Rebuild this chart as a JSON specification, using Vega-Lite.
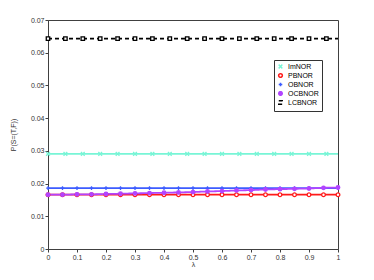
{
  "$schema": "https://vega.github.io/schema/vega-lite/v6.json",
  "autosize": {"type": "none"},
  "padding": {"left": 48, "top": 20, "right": 36, "bottom": 31},
  "width": 290,
  "height": 229,
  "config": {
    "font": "Liberation Sans",
    "view": {"stroke": "#404040", "strokeWidth": 1},
    "axis": {"grid": false, "domainColor": "#404040", "tickColor": "#404040", "labelColor": "#333333", "labelFontSize": 7, "titleFontSize": 7, "titleFontWeight": "normal", "titleColor": "#333333", "labelFont": "Liberation Sans", "titleFont": "Liberation Sans", "labelOverlap": false, "labelFlush": false}
  },
  "data": {"values": [
    {"s":"ImNOR","x":0,"y":0.0291},{"s":"ImNOR","x":0.06,"y":0.0291},{"s":"ImNOR","x":0.12,"y":0.0291},{"s":"ImNOR","x":0.18,"y":0.0291},{"s":"ImNOR","x":0.24,"y":0.0291},{"s":"ImNOR","x":0.3,"y":0.0291},{"s":"ImNOR","x":0.36,"y":0.0291},{"s":"ImNOR","x":0.42,"y":0.0291},{"s":"ImNOR","x":0.48,"y":0.0291},{"s":"ImNOR","x":0.54,"y":0.0291},{"s":"ImNOR","x":0.6,"y":0.0291},{"s":"ImNOR","x":0.66,"y":0.0291},{"s":"ImNOR","x":0.72,"y":0.0291},{"s":"ImNOR","x":0.78,"y":0.0291},{"s":"ImNOR","x":0.84,"y":0.0291},{"s":"ImNOR","x":0.9,"y":0.0291},{"s":"ImNOR","x":0.96,"y":0.0291},{"s":"ImNOR","x":1,"y":0.0291},
    {"s":"LCBNOR","x":0,"y":0.0643},{"s":"LCBNOR","x":0.06,"y":0.0643},{"s":"LCBNOR","x":0.12,"y":0.0643},{"s":"LCBNOR","x":0.18,"y":0.0643},{"s":"LCBNOR","x":0.24,"y":0.0643},{"s":"LCBNOR","x":0.3,"y":0.0643},{"s":"LCBNOR","x":0.36,"y":0.0643},{"s":"LCBNOR","x":0.42,"y":0.0643},{"s":"LCBNOR","x":0.48,"y":0.0643},{"s":"LCBNOR","x":0.54,"y":0.0643},{"s":"LCBNOR","x":0.6,"y":0.0643},{"s":"LCBNOR","x":0.66,"y":0.0643},{"s":"LCBNOR","x":0.72,"y":0.0643},{"s":"LCBNOR","x":0.78,"y":0.0643},{"s":"LCBNOR","x":0.84,"y":0.0643},{"s":"LCBNOR","x":0.9,"y":0.0643},{"s":"LCBNOR","x":0.96,"y":0.0643},{"s":"LCBNOR","x":1,"y":0.0643},
    {"s":"PBNOR","x":0,"y":0.0166},{"s":"PBNOR","x":0.05,"y":0.0166},{"s":"PBNOR","x":0.1,"y":0.0166},{"s":"PBNOR","x":0.15,"y":0.0166},{"s":"PBNOR","x":0.2,"y":0.0166},{"s":"PBNOR","x":0.25,"y":0.0166},{"s":"PBNOR","x":0.3,"y":0.0166},{"s":"PBNOR","x":0.35,"y":0.0166},{"s":"PBNOR","x":0.4,"y":0.0166},{"s":"PBNOR","x":0.45,"y":0.0166},{"s":"PBNOR","x":0.5,"y":0.0166},{"s":"PBNOR","x":0.55,"y":0.0166},{"s":"PBNOR","x":0.6,"y":0.0166},{"s":"PBNOR","x":0.65,"y":0.0166},{"s":"PBNOR","x":0.7,"y":0.0166},{"s":"PBNOR","x":0.75,"y":0.0166},{"s":"PBNOR","x":0.8,"y":0.0166},{"s":"PBNOR","x":0.85,"y":0.0166},{"s":"PBNOR","x":0.9,"y":0.0166},{"s":"PBNOR","x":0.95,"y":0.0166},{"s":"PBNOR","x":1,"y":0.0166},
    {"s":"OBNOR","x":0,"y":0.0186},{"s":"OBNOR","x":0.05,"y":0.0186},{"s":"OBNOR","x":0.1,"y":0.0186},{"s":"OBNOR","x":0.15,"y":0.0186},{"s":"OBNOR","x":0.2,"y":0.0186},{"s":"OBNOR","x":0.25,"y":0.0186},{"s":"OBNOR","x":0.3,"y":0.0186},{"s":"OBNOR","x":0.35,"y":0.0186},{"s":"OBNOR","x":0.4,"y":0.0186},{"s":"OBNOR","x":0.45,"y":0.0186},{"s":"OBNOR","x":0.5,"y":0.0186},{"s":"OBNOR","x":0.55,"y":0.0186},{"s":"OBNOR","x":0.6,"y":0.0186},{"s":"OBNOR","x":0.65,"y":0.0186},{"s":"OBNOR","x":0.7,"y":0.0186},{"s":"OBNOR","x":0.75,"y":0.0186},{"s":"OBNOR","x":0.8,"y":0.0186},{"s":"OBNOR","x":0.85,"y":0.0186},{"s":"OBNOR","x":0.9,"y":0.0186},{"s":"OBNOR","x":0.95,"y":0.0186},{"s":"OBNOR","x":1,"y":0.0186},
    {"s":"OCBNOR","x":0,"y":0.0166},{"s":"OCBNOR","x":0.05,"y":0.0166},{"s":"OCBNOR","x":0.1,"y":0.0167},{"s":"OCBNOR","x":0.15,"y":0.0167},{"s":"OCBNOR","x":0.2,"y":0.0168},{"s":"OCBNOR","x":0.25,"y":0.0169},{"s":"OCBNOR","x":0.3,"y":0.017},{"s":"OCBNOR","x":0.35,"y":0.0171},{"s":"OCBNOR","x":0.4,"y":0.0172},{"s":"OCBNOR","x":0.45,"y":0.0173},{"s":"OCBNOR","x":0.5,"y":0.0174},{"s":"OCBNOR","x":0.55,"y":0.0176},{"s":"OCBNOR","x":0.6,"y":0.0177},{"s":"OCBNOR","x":0.65,"y":0.0179},{"s":"OCBNOR","x":0.7,"y":0.018},{"s":"OCBNOR","x":0.75,"y":0.0182},{"s":"OCBNOR","x":0.8,"y":0.0183},{"s":"OCBNOR","x":0.85,"y":0.0184},{"s":"OCBNOR","x":0.9,"y":0.0185},{"s":"OCBNOR","x":0.95,"y":0.0187},{"s":"OCBNOR","x":1,"y":0.0188}
  ]},
  "encoding": {
    "x": {"field": "x", "type": "quantitative", "scale": {"domain": [0, 1], "nice": false}, "axis": {"values": [0,0.1,0.2,0.3,0.4,0.5,0.6,0.7,0.8,0.9,1], "labelExpr": "datum.value == 0 ? '0' : datum.value == 1 ? '1' : format(datum.value, '.1f')", "title": "λ", "tickSize": 3, "labelPadding": 1, "titlePadding": 0, "labelOverlap": false}},
    "y": {"field": "y", "type": "quantitative", "scale": {"domain": [0, 0.07], "nice": false}, "axis": {"values": [0,0.01,0.02,0.03,0.04,0.05,0.06,0.07], "labelExpr": "datum.value == 0 ? '0' : format(datum.value, '.2f')", "title": "P(S=(T,F))", "tickSize": 3, "labelPadding": 1, "titlePadding": 14, "labelOverlap": false}},
    "color": {"field": "s", "type": "nominal", "scale": {"domain": ["ImNOR","PBNOR","OBNOR","OCBNOR","LCBNOR"], "range": ["#78f5d6","#ff1a1a","#3d5cff","#b244ff","#000000"]}, "legend": {"title": null, "orient": "none", "legendX": 226, "legendY": 40, "fillColor": "white", "strokeColor": "#333333", "padding": 3, "labelFontSize": 7, "labelColor": "#000000", "rowPadding": -2, "symbolSize": 16, "symbolStrokeWidth": 1.5, "labelOffset": 4}}
  },
  "layer": [
    {
      "mark": {"type": "line", "strokeWidth": 1.8},
      "encoding": {
        "strokeDash": {"field": "s", "type": "nominal", "scale": {"domain": ["ImNOR","PBNOR","OBNOR","OCBNOR","LCBNOR"], "range": [[1,0],[1,0],[1,0],[1,0],[4,3]]}, "legend": null}
      }
    },
    {
      "transform": [{"filter": "!((datum.s == 'ImNOR' || datum.s == 'LCBNOR') && datum.x == 1)"}],
      "mark": {"type": "point", "filled": false, "strokeWidth": 1.3, "opacity": 1},
      "encoding": {
        "shape": {"field": "s", "type": "nominal", "scale": {"domain": ["ImNOR","PBNOR","OBNOR","OCBNOR","LCBNOR"], "range": ["M-1,-1L1,1M-1,1L1,-1","circle","M-1,0L1,0M0,-1L0,1","circle","square"]}, "legend": {"title": null}},
        "fill": {"field": "s", "type": "nominal", "scale": {"domain": ["ImNOR","PBNOR","OBNOR","OCBNOR","LCBNOR"], "range": ["transparent","white","transparent","#b244ff","white"]}, "legend": {"title": null}},
        "size": {"field": "s", "type": "nominal", "scale": {"domain": ["ImNOR","PBNOR","OBNOR","OCBNOR","LCBNOR"], "range": [14,12,14,24,9]}, "legend": null}
      }
    }
  ]
}
